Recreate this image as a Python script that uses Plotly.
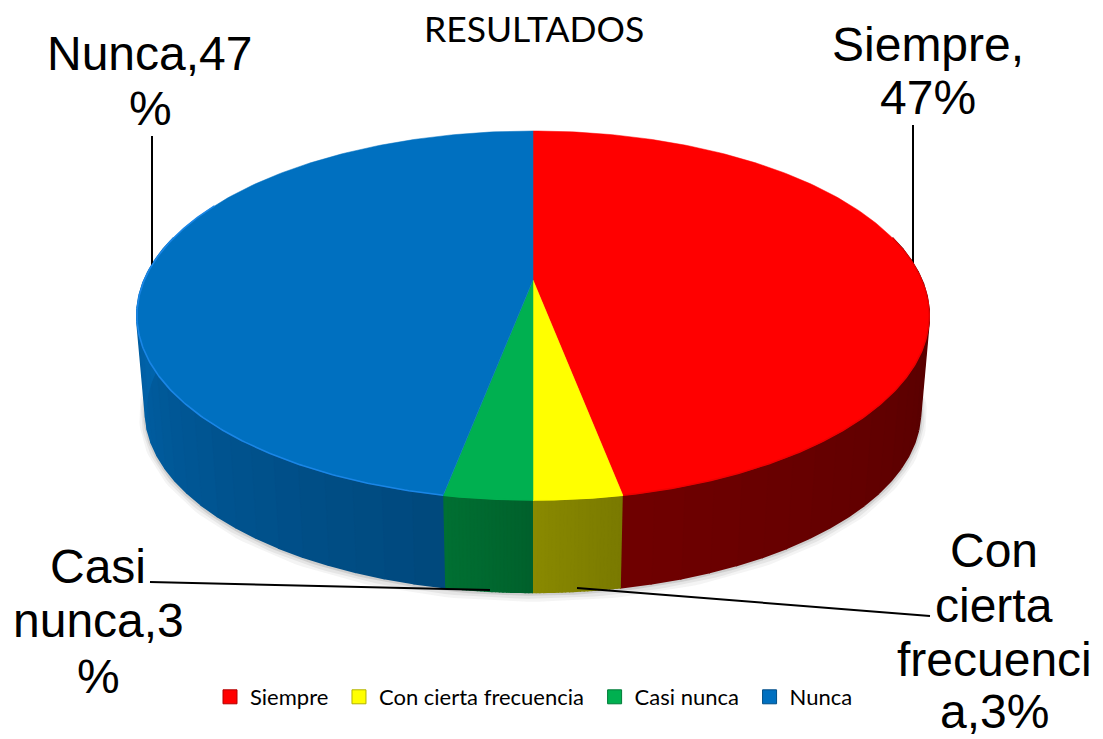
import numpy as np
import plotly.graph_objects as go

# --- data ---
categories = ["Siempre", "Con cierta frecuencia", "Casi nunca", "Nunca"]
values = [47, 3, 3, 47]
top_colors = ["#ff0000", "#ffff00", "#00b050", "#0070c0"]
rim_colors = ["#ee0000", "#ffff00", "#00b050", "#1a86e6"]
label_lines = [["Siempre,", "47%"], ["Con", "cierta", "frecuenci", "a,3%"], ["Casi", "nunca,3", "%"], ["Nunca,47", "%"]]
title_text = "RESULTADOS"

# --- style / layout constants (pixel canvas) ---
W, H = 1103, 739
CX, Y_TOP, A, B, K = 533, 280, 388.7, 177.7, 0.1924
Y_BOT, S_BOT = 377, 0.978
wall_shade = [(0.31, 0.44), (0.48, 0.54), (0.55, 0.64), (0.65, 0.93)]
label_pos = [[(928, 44), (928, 97)],
             [(994, 550), (994, 605), (994, 659), (994, 711.5)],
             [(98, 566), (98, 620), (98, 676)],
             [(149, 53), (150, 108)]]
leaders = [((913, 125), (913, 265)), ((577, 588), (930, 616)), ((150, 582), (490, 590)), ((152, 136), (152, 265))]


def top_xy(t):
    u, v = np.sin(t), np.cos(t)
    w = 1 + K * v
    return CX + A * u / w, Y_TOP - B * v / w


def bot_xy(t):
    u, v = np.sin(t), np.cos(t)
    w = 1 + K * v
    return CX + S_BOT * A * u / w, Y_BOT - S_BOT * B * v / w


def rgb(hexc, f):
    r, g, b = int(hexc[1:3], 16), int(hexc[3:5], 16), int(hexc[5:7], 16)
    return f"rgb({int(r*f)},{int(g*f)},{int(b*f)})"


fractions = np.array(values, dtype=float) / sum(values)
edges = np.concatenate([[0], np.cumsum(fractions)]) * 2 * np.pi

fig = go.Figure()


def poly(xs, ys, color, lw=0.5):
    fig.add_trace(go.Scatter(x=xs, y=ys, mode="lines", fill="toself", fillcolor=color,
                             line=dict(color=color, width=lw), hoverinfo="skip", showlegend=False))


# soft shadow under the near wall
ts = np.linspace(np.pi * 0.5, np.pi * 1.5, 160)
sx, sy = bot_xy(ts)
for width, alpha, dy in [(13, 0.06, 3), (9, 0.08, 2), (5, 0.14, 1)]:
    fig.add_trace(go.Scatter(x=sx, y=sy + dy, mode="lines", line=dict(color=f"rgba(70,70,70,{alpha})", width=width),
                             hoverinfo="skip", showlegend=False))

# walls, shaded along the near arc
for i in range(len(values)):
    a0, a1 = edges[i], edges[i + 1]
    lo, hi = max(a0, np.pi * 0.42), min(a1, np.pi * 1.58)
    if hi <= lo:
        continue
    n = 24
    t = np.linspace(lo, hi, n + 1)
    s0, s1 = wall_shade[i]
    for j in range(n):
        f = s0 + (s1 - s0) * (j + 0.5) / n
        seg = np.linspace(t[j], t[j + 1], 3)
        tx, ty = top_xy(seg)
        bx, by = bot_xy(seg[::-1])
        poly(list(tx) + list(bx), list(ty) + list(by), rgb(top_colors[i], f), lw=2)

# leader lines
for (p0, p1) in leaders:
    fig.add_trace(go.Scatter(x=[p0[0], p1[0]], y=[p0[1], p1[1]], mode="lines",
                             line=dict(color="#000000", width=2), hoverinfo="skip", showlegend=False))

# top faces
for i in range(len(values)):
    t = np.linspace(edges[i], edges[i + 1], 200)
    x, y = top_xy(t)
    poly([CX] + list(x) + [CX], [Y_TOP] + list(y) + [Y_TOP], top_colors[i])
    lo, hi = max(edges[i], np.pi * 0.42), min(edges[i + 1], np.pi * 1.65)
    if hi > lo:
        rx, ry = top_xy(np.linspace(lo, hi, 200))
        fig.add_trace(go.Scatter(x=rx, y=ry, mode="lines", line=dict(color=rim_colors[i], width=1.6),
                                 hoverinfo="skip", showlegend=False))

# legend entries
for c, col in zip(categories, top_colors):
    fig.add_trace(go.Scatter(x=[None], y=[None], mode="markers", name=c + "\u00a0",
                             marker=dict(symbol="square", size=14, color=col,
                                         line=dict(color=rgb(col, 0.7), width=1))))

annotations = [dict(x=533.5, y=28, xref="x", yref="y", text=title_text, showarrow=False,
                    font=dict(family="Lato", size=35.5, color="#000000"))]
for lines, pos in zip(label_lines, label_pos):
    for line, (px, py) in zip(lines, pos):
        annotations.append(dict(x=px, y=py, xref="x", yref="y", text=line, showarrow=False,
                                font=dict(family="Liberation Sans", size=48, color="#000000")))

fig.update_layout(
    width=W, height=H, margin=dict(l=0, r=0, t=0, b=0),
    paper_bgcolor="#ffffff", plot_bgcolor="#ffffff",
    xaxis=dict(range=[0, W], visible=False, fixedrange=True),
    yaxis=dict(range=[H, 0], visible=False, fixedrange=True),
    annotations=annotations,
    legend=dict(orientation="h", x=210 / W, y=1 - 697 / H, xanchor="left", yanchor="middle",
                font=dict(family="Lato", size=22, color="#000000"), bgcolor="rgba(0,0,0,0)"),
)
fig.write_html("out.html", config={"displayModeBar": False},
               post_script="document.body.style.margin='0';document.documentElement.style.overflow='hidden';")
